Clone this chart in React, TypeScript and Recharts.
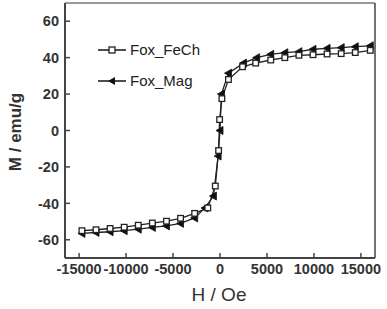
import React from 'react';
import { LineChart, Line, XAxis, YAxis, ReferenceLine } from 'recharts';

const feChH = [-14700, -13200, -11700, -10200, -8700, -7200, -5700, -4200, -2700, -1300, -500, -150, -40, 200, 900, 2400, 3800, 5400, 6900, 8400, 9900, 11400, 12900, 14400, 16000];
const feChM = [-55, -54.5, -53.8, -53.1, -52, -50.8, -49.8, -48.2, -45.5, -42.5, -30.5, -11, 6, 17.5, 28, 35, 37, 38.7, 40, 41.3, 41.6, 42, 42.2, 42.8, 44];

const magH = [-14700, -13200, -11700, -10200, -8700, -7200, -5700, -4200, -2700, -1600, -700, -200, 0, 150, 900, 2500, 3900, 5400, 6900, 8400, 9900, 11400, 12900, 14400, 16000];
const magM = [-56.5, -56, -55.6, -55, -54.2, -53.2, -52.4, -51, -48, -42.5, -36, -14, 0, 20, 31.5, 37, 40, 41.8, 42.7, 43.3, 44.6, 45.1, 45.5, 46, 46.5];

const xTicks = [-15000, -10000, -5000, 0, 5000, 10000, 15000];
const yTicks = [-60, -40, -20, 0, 20, 40, 60];
const seriesNames = ['Fox_FeCh', 'Fox_Mag'];

const feChData = feChH.map((h, i) => ({ h, m: feChM[i] }));
const magData = magH.map((h, i) => ({ h, m: magM[i] }));

const FONT = 'Arial, "Liberation Sans", sans-serif';

const SquareDot = (props: any) => {
  const { cx, cy, index } = props;
  if (cx == null || cy == null) return null;
  return <rect key={`s${index}`} x={cx - 2.8} y={cy - 2.8} width={5.6} height={5.6} fill="#fff" stroke="#222" strokeWidth={1.3} />;
};

const TriDot = (props: any) => {
  const { cx, cy, index } = props;
  if (cx == null || cy == null) return null;
  return <polygon key={`t${index}`} points={`${cx - 4},${cy} ${cx + 3},${cy - 4} ${cx + 3},${cy + 4}`} fill="#111" stroke="#111" strokeWidth={0.8} />;
};

const LegendBox = () => (
  <div style={{ position: 'absolute', left: 97, top: 40, fontFamily: FONT, fontSize: 15, color: '#222', lineHeight: '20px' }}>
    <div style={{ display: 'flex', alignItems: 'center', height: 20 }}>
      <svg width={31} height={12} style={{ marginRight: 2 }}>
        <line x1={1} y1={6} x2={29} y2={6} stroke="#222" strokeWidth={1.6} />
        <rect x={12} y={3} width={6} height={6} fill="#fff" stroke="#222" strokeWidth={1.3} />
      </svg>
      <span>{seriesNames[0]}</span>
    </div>
    <div style={{ display: 'flex', alignItems: 'center', height: 20, marginTop: 11 }}>
      <svg width={31} height={12} style={{ marginRight: 2 }}>
        <line x1={1} y1={6} x2={29} y2={6} stroke="#222" strokeWidth={1.6} />
        <polygon points="11,6 18,2 18,10" fill="#111" />
      </svg>
      <span>{seriesNames[1]}</span>
    </div>
  </div>
);

const YLabel = () => (
  <text x={15} y={132} transform="rotate(-90,15,132)" textAnchor="middle" dominantBaseline="central"
    fontFamily={FONT} fontSize={17} fontWeight="bold" fill="#333">M / emu/g</text>
);

const XLabel = () => (
  <text x={219} y={301} textAnchor="middle" fontFamily={FONT} fontSize={19} fill="#333">H / Oe</text>
);

export default function App() {
  return (
    <div style={{ position: 'absolute', left: 0, top: 0, width: 387, height: 309, background: '#fff' }}>
      <LineChart width={387} height={309} margin={{ top: 3, right: 12, bottom: 0, left: 0 }}>
        <XAxis
          dataKey="h"
          type="number"
          domain={[-16500, 16500]}
          ticks={xTicks}
          allowDuplicatedCategory={false}
          height={51}
          axisLine={{ stroke: '#444', strokeWidth: 2 }}
          tickLine={{ stroke: '#444', strokeWidth: 1.5 }}
          tickSize={-5}
          tickMargin={11}
          tick={{ fontFamily: FONT, fontSize: 14.5, fontWeight: 'bold', fill: '#333' }}
          interval={0}
          label={<XLabel />}
        />
        <YAxis
          dataKey="m"
          type="number"
          domain={[-70, 70]}
          ticks={yTicks}
          width={65}
          axisLine={{ stroke: '#444', strokeWidth: 2 }}
          tickLine={{ stroke: '#444', strokeWidth: 1.5 }}
          tickSize={-5}
          tickMargin={11}
          tick={{ fontFamily: FONT, fontSize: 14.5, fontWeight: 'bold', fill: '#333' }}
          interval={0}
          label={<YLabel />}
        />
        <ReferenceLine y={70} stroke="#777" strokeWidth={1.5} />
        <ReferenceLine x={16500} stroke="#444" strokeWidth={1.5} />
        <Line data={magData} dataKey="m" name={seriesNames[1]} stroke="#222" strokeWidth={1.3}
          dot={<TriDot />} isAnimationActive={false} legendType="none" />
        <Line data={feChData} dataKey="m" name={seriesNames[0]} stroke="#222" strokeWidth={1.3}
          dot={<SquareDot />} isAnimationActive={false} legendType="none" />
      </LineChart>
      <LegendBox />
    </div>
  );
}
